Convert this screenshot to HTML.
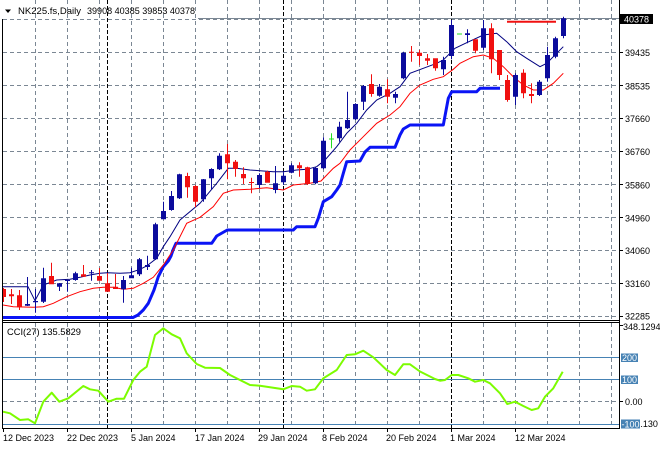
<!DOCTYPE html>
<html><head><meta charset="utf-8">
<style>
html,body{margin:0;padding:0;background:#fff;}
svg{display:block;font-family:"Liberation Sans",Arial,sans-serif;}
</style></head>
<body>
<svg width="660" height="450" viewBox="0 0 660 450" xmlns="http://www.w3.org/2000/svg">
<rect width="660" height="450" fill="#fff"/>
<path fill="none" stroke="#7b8794" stroke-dasharray="4,3" d="M35.5 0V320M67.5 0V320M99.5 0V320M131.5 0V320M163.5 0V320M195.5 0V320M227.5 0V320M259.5 0V320M291.5 0V320M323.5 0V320M355.5 0V320M387.5 0V320M419.5 0V320M483.5 0V320M515.5 0V320M547.5 0V320M579.5 0V320M611.5 0V320M35.5 323V428M67.5 323V428M99.5 323V428M131.5 323V428M163.5 323V428M195.5 323V428M227.5 323V428M259.5 323V428M291.5 323V428M323.5 323V428M355.5 323V428M387.5 323V428M419.5 323V428M483.5 323V428M515.5 323V428M547.5 323V428M579.5 323V428M611.5 323V428M3 19.5H619M3 52.5H619M3 85.5H619M3 118.5H619M3 151.5H619M3 184.5H619M3 217.5H619M3 250.5H619M3 283.5H619M3 316.5H619M3 401.5H619"/>
<path fill="none" stroke="#000" stroke-dasharray="4,2" d="M107.5 0V320M283.5 0V320M451.5 0V320M107.5 323V428M283.5 323V428M451.5 323V428"/>
<path fill="none" stroke="#4682b4" d="M3 357.5H619M3 379.5H619M3 424.5H619"/>
<path d="M198 18.5H619" stroke="#7b8794"/>
<polyline fill="none" stroke="#0a14f5" stroke-width="3" stroke-linejoin="round" points="3,317.5 133,317.5 138,315 143.3,310 148.3,303.3 154,290 158.3,276.7 163.3,266.7 168.3,261 171,256 173,250 176,243.3 211.7,243.3 216.7,236 222,233 227.3,230 293.3,230 296.7,226.7 315,226.7 318.3,218.3 323.3,201.7 331.7,196.7 336.7,190 340,185 343.3,173.3 346.7,161.7 360,161 365,152 370,147.3 395,147.3 400,135 403.3,129 410,125 443.3,125 448.3,98.3 451.7,91.7 476.7,91.7 480,88.3 500,88.3"/>
<polyline fill="none" stroke="#ff0000" points="3,305 13.3,306.7 33.3,307.3 43.3,306.7 53.3,303.3 66.7,296.7 80,291.7 93.3,288.3 103.3,287.3 113.3,287.3 123.3,289.3 133.3,288.3 143.3,283.3 153.3,277.3 163.3,265 170,255 173.3,250 186.7,223.3 200,217.3 213.3,206.7 223.3,193.3 233.3,190 250,189.3 266.7,187.7 283.3,190 293.3,185 310,183.3 321,181 333.3,168.3 340,163.3 350,150 363.3,136.7 376.7,123.3 390,115 400,106.7 410,93.3 420,85 433.3,79.3 443.3,76.7 453.3,69.3 460,63.3 473.3,56.7 483.3,55 493.3,58.3 503.3,66.7 513.3,76.7 523.3,85 533.3,90 543.3,90 553.3,83.3 563.3,73.3"/>
<polyline fill="none" stroke="#000080" points="3,286.7 28,286.7 35,300.7 43.3,285 56.7,280 70,279.3 80,277.3 90,275 100,273.3 107.3,272.7 120,273.3 130,272.7 140,269.3 146.7,266 156.7,258.3 163.3,246.7 170,236.7 180,220 200,203.3 216.7,183.3 228.3,168.3 236.7,168.3 250,170 260,170.7 273.3,171.7 283.3,171.7 296.7,170 306.7,169.3 316.7,166.7 325,160 336.7,146.7 346.7,133.3 356.7,123.3 366.7,110 376.7,100 390,93.3 400,86.7 410,73.3 423.3,68.3 436.7,63.3 443.3,60 455,48.3 466.7,42.7 483.3,35 496.7,33.3 506.7,41.7 516.7,51.7 526.7,58.3 540,66.7 546.7,63.3 556.7,53.3 563.3,46.7"/>
<path fill="#0b0b9c" d="M25 304h5v1.7h-5zM27 277h1v29h-1zM33 301h5v1.3h-5zM35 289h1v23.7h-1zM41 278.3h5v23.4h-5zM43 267.7h1v35.3h-1zM57 283.3h5v3.4h-5zM59 283h1v8h-1zM65 280h5v1h-5zM67 280h1v11.7h-1zM73 273.3h5v6.7h-5zM75 271.7h1v9h-1zM89 272.3h5v1h-5zM91 270h1v10.7h-1zM121 280h5v9.3h-5zM123 276h1v26.7h-1zM129 275.3h5v3h-5zM131 267.7h1v10.6h-1zM137 259.3h5v15h-5zM139 258h1v18h-1zM145 265h5v2h-5zM147 255.7h1v14.3h-1zM153 224.3h5v35h-5zM155 222.7h1v37.3h-1zM161 211h5v8.3h-5zM163 201.7h1v17.6h-1zM169 196h5v14h-5zM171 191h1v19.7h-1zM177 174.3h5v24h-5zM179 173.7h1v25.3h-1zM201 179.3h5v20h-5zM203 179h1v22.7h-1zM209 169h5v9.3h-5zM211 168.3h1v20.7h-1zM217 155.7h5v13.6h-5zM219 153.3h1v16.7h-1zM257 175h5v10h-5zM259 173.3h1v15h-1zM273 183.3h5v6.7h-5zM275 166h1v27.3h-1zM281 175.7h5v6.6h-5zM283 172.3h1v12.4h-1zM289 165.3h5v7.4h-5zM291 163.3h1v10h-1zM313 168h5v15.3h-5zM315 167.3h1v17h-1zM321 140.7h5v27.6h-5zM323 137.3h1v32h-1zM337 126.7h5v11.6h-5zM339 121.7h1v20h-1zM345 120h5v8.3h-5zM347 91.7h1v37.3h-1zM353 104h5v15.3h-5zM355 103.3h1v16.7h-1zM361 86h5v15.7h-5zM363 85h1v25h-1zM377 86.7h5v9h-5zM379 84h1v12.7h-1zM393 94h5v3.7h-5zM395 91.7h1v11.6h-1zM401 52.7h5v25.6h-5zM403 51.7h1v27.6h-1zM441 60h5v9.3h-5zM443 56.7h1v18.3h-1zM449 25h5v31h-5zM451 20h1v39.3h-1zM465 33.3h5v1.7h-5zM467 29.3h1v14h-1zM481 28.3h5v19.4h-5zM483 20h1v30h-1zM513 75h5v21.7h-5zM515 73.3h1v31.7h-1zM537 81.7h5v13.3h-5zM539 80h1v16h-1zM545 55h5v23.3h-5zM547 46.7h1v35h-1zM553 38.3h5v18.4h-5zM555 36.7h1v21.6h-1zM561 18.3h5v17.7h-5zM563 16.7h1v21.6h-1z"/>
<path fill="#f01010" d="M3 289h3v8h-3zM3 288h1v14h-1zM9 294.3h5v2h-5zM11 289h1v15h-1zM17 295.3h5v12h-5zM19 290h1v20h-1zM49 276h5v8.3h-5zM51 262.7h1v21.6h-1zM81 274.3h5v2.4h-5zM83 265h1v11.7h-1zM97 276h5v4.7h-5zM99 268h1v12.7h-1zM105 283.3h5v8.4h-5zM107 273h1v18.7h-1zM113 286.7h5v2.3h-5zM115 274h1v15h-1zM185 176h5v11.3h-5zM187 172.7h1v25h-1zM193 186h5v15.7h-5zM195 185.3h1v22h-1zM225 154.3h5v9h-5zM227 144h1v35.3h-1zM233 161.7h5v7.3h-5zM235 160h1v16.7h-1zM241 174h5v4.3h-5zM243 167.3h1v16.7h-1zM249 182h5v1h-5zM251 177.7h1v15.6h-1zM265 171.7h5v11h-5zM267 170.7h1v12h-1zM297 165.3h5v3h-5zM299 162.3h1v14.4h-1zM305 167.3h5v16.7h-5zM307 166.7h1v18.3h-1zM369 84h5v10h-5zM371 74.3h1v22.4h-1zM385 89.3h5v7.4h-5zM387 79.3h1v24h-1zM409 51.7h5v1h-5zM411 46h1v15.7h-1zM417 52.7h5v3.3h-5zM419 50h1v15h-1zM425 58.3h5v2.4h-5zM427 54h1v11h-1zM433 58.3h5v10h-5zM435 58.3h1v12.4h-1zM473 39.3h5v11.4h-5zM475 39.3h1v14h-1zM489 28.3h5v31h-5zM491 23.3h1v50h-1zM497 50h5v25h-5zM499 50h1v30h-1zM505 80h5v20h-5zM507 75h1v26.7h-1zM521 72.7h5v20.6h-5zM523 69.3h1v29h-1zM529 94h5v2h-5zM531 83.3h1v20h-1zM507 20.7h49v2h-49z"/>
<path fill="#22dd22" d="M329 138.5h5v1h-5zM331 133.3h1v15h-1zM457 33.5h5v1h-5z"/>
<polyline fill="none" stroke="#7cfc00" stroke-width="2" stroke-linejoin="round" points="3,411.7 10,413.3 20,420 28.3,419.3 35,423.3 43.3,401.7 51.7,392.7 59.3,401.7 68.3,398.3 83.3,386 90,389.3 98.3,390.7 108.3,401.7 116.7,398.7 124,398.7 133.3,380 140,371.7 146.7,366.7 155,335 163.3,328.3 171.7,334.3 180,338.3 186.7,353.3 196.7,364 205,367.7 220,368 230,375 240,380 250,385 260,385.7 276.7,388.3 283.3,389.3 291.7,386 300,386.7 306.7,390.7 315,389.3 323.3,378.3 336.7,370 346.7,355 355,354.3 363.3,350.7 373.3,357.3 386.7,370 395,375 403.3,364.3 410,364.3 420,371.5 435,379 440,380.7 445,380 451.7,375 458.3,375 468.3,378.3 475,381.7 483.3,380 490,383.3 500,393.3 507.3,404 515,401.7 523.3,406 531.7,410 538.3,408.3 545,396.7 553.3,388.3 562.7,371.7"/>
<path fill="none" stroke="#000" d="M2.5 19V428.5M619.5 0V428.5M2 320.5H620M2 322.5H620M2 428.5H620M619 19.5H623M619 52.5H623M619 85.5H623M619 118.5H623M619 151.5H623M619 184.5H623M619 217.5H623M619 250.5H623M619 283.5H623M619 316.5H623M619 325.5H623M619 401.5H623M3.5 428V432M67.5 428V432M131.5 428V432M195.5 428V432M259.5 428V432M323.5 428V432M387.5 428V432M451.5 428V432M515.5 428V432"/>
<path d="M5 9.5H11L8 13Z" fill="#000"/>
<text x="18" y="14" font-size="9.5" textLength="63" lengthAdjust="spacingAndGlyphs">NK225.fs,Daily</text>
<text x="87" y="14" font-size="9.5" textLength="108" lengthAdjust="spacingAndGlyphs">39908 40385 39853 40378</text>
<g font-size="9">
<text x="625" y="56">39435</text><text x="625" y="89.5">38535</text><text x="625" y="122">37660</text>
<text x="625" y="155">36760</text><text x="625" y="188.5">35860</text><text x="625" y="221.5">34960</text>
<text x="625" y="254">34060</text><text x="625" y="287">33160</text><text x="625" y="319.5">32285</text>
<text x="623" y="330">348.1294</text><text x="625" y="405">0.00</text><text x="623" y="427">-118.130</text>
<text x="3" y="441">12 Dec 2023</text><text x="67" y="441">22 Dec 2023</text><text x="131" y="441">5 Jan 2024</text>
<text x="195" y="441">17 Jan 2024</text><text x="258" y="441">29 Jan 2024</text><text x="322" y="441">8 Feb 2024</text>
<text x="386" y="441">20 Feb 2024</text><text x="450" y="441">1 Mar 2024</text><text x="515" y="441">12 Mar 2024</text>
</g>
<rect x="620" y="14" width="33" height="10" fill="#000"/>
<text x="624" y="22.5" font-size="9" fill="#fff">40378</text>
<text x="7" y="335" font-size="9.5" textLength="74" lengthAdjust="spacingAndGlyphs">CCI(27) 135.5829</text>
<rect x="621" y="353.5" width="17" height="8.5" fill="#4682b4"/>
<text x="622" y="361" font-size="9" fill="#fff">200</text>
<rect x="621" y="375.5" width="17" height="8.5" fill="#4682b4"/>
<text x="622" y="383" font-size="9" fill="#fff">100</text>
<rect x="621" y="419.5" width="19" height="9" fill="#4682b4"/>
<text x="621.5" y="427.5" font-size="9" fill="#fff">-100</text>
</svg>
</body></html>
